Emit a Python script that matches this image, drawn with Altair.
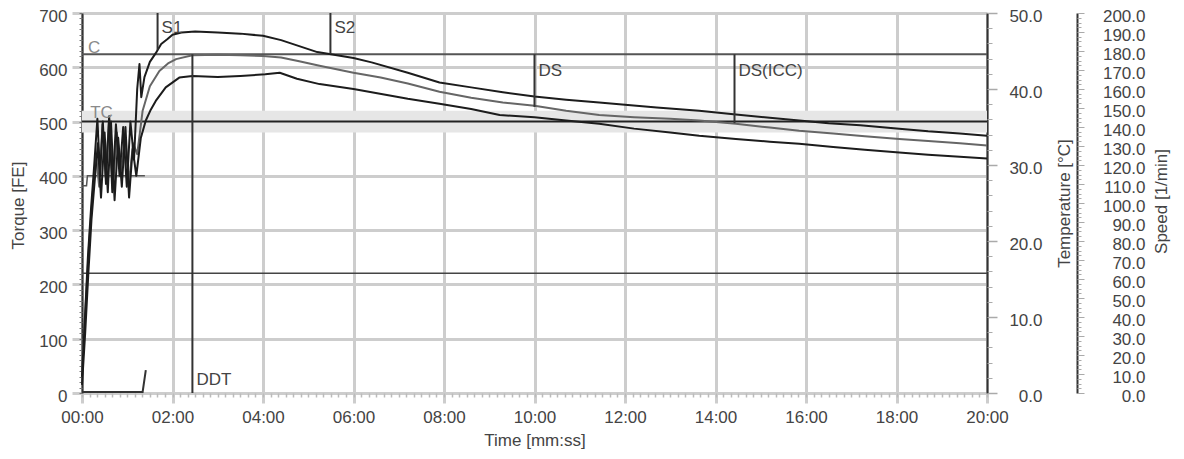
import altair as alt
import pandas as pd

FONT = "Liberation Sans"
GRID = "#cdcdcd"
LAB = "#444444"

# ---------------- data ----------------
upper_t = [0.0, 0.06, 0.13, 0.2, 0.27, 0.34, 0.4, 0.46, 0.53, 0.6, 0.67, 0.75, 0.83, 0.91, 0.99,
           1.07, 1.15, 1.22, 1.27, 1.31, 1.38, 1.5, 1.63, 1.75, 1.89, 2.0, 2.2, 2.5, 3.0, 3.5, 4.0,
           4.4, 4.8, 5.2, 5.5, 6.0, 6.4, 7.2, 7.9, 8.6, 9.3, 10.0, 10.7, 11.43, 12.0, 12.7, 13.64,
           14.45, 15.2, 15.85, 16.5, 17.2, 18.06, 18.7, 19.4, 20.0]
upper_v = [30, 130, 250, 340, 420, 505, 400, 500, 385, 510, 370, 495, 400, 490, 380,
           500, 430, 560, 606, 545, 582, 610, 626, 643, 652, 660, 664, 666, 664, 662, 658,
           650, 639, 628, 624, 617, 609, 590, 572, 563, 554, 546, 540, 535, 531, 526, 520,
           513, 507, 502, 497, 493, 487, 482, 478, 474]

mid_t = [0.0, 0.08, 0.16, 0.24, 0.31, 0.38, 0.45, 0.52, 0.6, 0.68, 0.77, 0.86, 0.95, 1.04, 1.13,
         1.22, 1.34, 1.5, 1.71, 1.9, 2.08, 2.44, 3.0, 3.5, 4.0, 4.4, 4.8, 5.25, 6.0, 6.6, 7.2,
         7.9, 8.6, 9.3, 10.0, 10.7, 11.43, 12.2, 13.0, 13.64, 14.45, 15.2, 15.85, 16.6, 17.3,
         18.06, 18.7, 19.4, 20.0]
mid_v = [45, 160, 280, 370, 440, 380, 495, 400, 505, 375, 480, 410, 470, 390, 460,
         440, 520, 565, 593, 607, 615, 622, 623, 622, 621, 618, 611, 603, 590, 581, 570,
         555, 544, 535, 529, 520, 512, 508, 505, 502, 496, 489, 483, 478, 473,
         468, 464, 460, 456]

low_t = [0.0, 0.07, 0.14, 0.21, 0.28, 0.35, 0.42, 0.5, 0.57, 0.64, 0.72, 0.8, 0.88, 0.96, 1.04,
         1.12, 1.2, 1.3, 1.41, 1.52, 1.63, 1.85, 2.15, 2.44, 3.0, 3.5, 4.05, 4.37, 4.75, 5.25,
         6.0, 7.2, 7.9, 8.6, 9.23, 10.0, 10.7, 11.43, 12.2, 13.0, 13.64, 14.45, 15.2, 15.85,
         16.6, 17.3, 18.06, 18.7, 19.4, 20.0]
low_v = [15, 110, 220, 320, 390, 460, 360, 480, 370, 500, 355, 470, 380, 490, 360,
         450, 400, 470, 502, 522, 538, 563, 581, 584, 582, 584, 587, 590, 579, 569,
         560, 542, 533, 523, 512, 508, 502, 496, 487, 480, 474, 468, 463, 459,
         453, 448, 443, 439, 435, 432]

# auxiliary traces at the start
water_t = [0.0, 1.34, 1.41]
water_v = [2, 2, 42]
aux_t = [0.0, 0.1, 0.12, 1.39]
aux_v = [382, 382, 400, 400]

# reference levels
c_level = [624]
tc_level = [500]
band_lo = [480]
band_hi = [520]
speed_level = [63]

# event markers
marker_t = [1.67, 5.49, 2.44, 10.0, 14.42]
marker_top = [700, 700, 624, 624, 624]
marker_bottom = [632, 625, 0, 527, 497]

dark_names = ["S1", "S2", "DDT", "DS", "DS(ICC)"]
dark_t = [1.67, 5.49, 2.44, 10.0, 14.42]
dark_v = [672, 672, 24, 593, 593]
light_names = ["C", "TC"]
light_t = [0.13, 0.18]
light_v = [636, 516]

# axis ticks
time_ticks = [0, 2, 4, 6, 8, 10, 12, 14, 16, 18, 20]
time_minor = [round(i / 6, 4) for i in range(121)]
torque_ticks = [0, 100, 200, 300, 400, 500, 600, 700]
torque_minor = list(range(0, 701, 10))
temp_ticks = [0, 10, 20, 30, 40, 50]
temp_minor = list(range(0, 51, 2))
speed_ticks = list(range(0, 201, 10))
speed_minor = [i * 2.5 for i in range(81)]

# ---------------- scales ----------------
TX = alt.Scale(domain=[0, 20], nice=False, zero=False)
TQ = alt.Scale(domain=[0, 700], nice=False, zero=False)
TT = alt.Scale(domain=[0, 50], nice=False, zero=False)
SP = alt.Scale(domain=[0, 200], nice=False, zero=False)


def xq(field="t"):
    return alt.X(f"{field}:Q", scale=TX, axis=None)


def yq(field="v"):
    return alt.Y(f"{field}:Q", scale=TQ, axis=None)


# ---------------- layers ----------------
band_df = pd.DataFrame({"t": [0], "t2": [20], "v": band_lo, "v2": band_hi})
band = alt.Chart(band_df).mark_rect(color="#e6e6e6").encode(
    x=alt.X("t:Q", scale=TX, axis=alt.Axis(
        values=time_ticks,
        labelExpr="(datum.value < 10 ? '0' : '') + datum.value + ':00'",
        grid=True, gridColor=GRID, gridWidth=3, domain=False,
        tickColor=GRID, tickWidth=3, tickSize=10, labelPadding=6,
        labelFontSize=17, labelColor=LAB, labelFlush=False, labelOverlap=False,
        title="Time [mm:ss]", titleFontSize=17, titleFontWeight="normal",
        titleColor=LAB, titlePadding=7)),
    x2="t2:Q",
    y=alt.Y("v:Q", scale=TQ, axis=alt.Axis(
        orient="left", values=torque_ticks, grid=True, gridColor=GRID, gridWidth=3,
        domainColor="#333333", domainWidth=2, tickColor=GRID, tickWidth=3, tickSize=10,
        labelPadding=5, labelFontSize=17, labelColor=LAB, labelFlush=False, labelOffset=3,
        title="Torque [FE]", titleFontSize=17, titleFontWeight="normal", titleColor=LAB,
        titleAngle=270, titleX=-64, titleY=192, titleAlign="center",
        titleBaseline="middle")),
    y2="v2:Q",
)

x_minor = alt.Chart(pd.DataFrame({"t": [0]})).mark_rule(opacity=0).encode(
    x=alt.X("t:Q", scale=TX, axis=alt.Axis(
        orient="bottom", values=time_minor, labels=False, domain=False, grid=False,
        tickColor="#bbbbbb", tickWidth=1.5, tickSize=4, title=None)))

y_minor = alt.Chart(pd.DataFrame({"v": [0]})).mark_rule(opacity=0).encode(
    y=alt.Y("v:Q", scale=TQ, axis=alt.Axis(
        orient="left", values=torque_minor, labels=False, domain=False, grid=False,
        tickColor="#777777", tickWidth=1, tickSize=3, title=None)))

c_line = alt.Chart(pd.DataFrame({"v": c_level})).mark_rule(
    color="#555555", strokeWidth=2).encode(y=yq())
tc_line = alt.Chart(pd.DataFrame({"v": tc_level})).mark_rule(
    color="#222222", strokeWidth=2).encode(y=yq())

speed = alt.Chart(pd.DataFrame({"s": speed_level})).mark_rule(
    color="#444444", strokeWidth=1.5).encode(
    y=alt.Y("s:Q", scale=SP, axis=alt.Axis(
        orient="right", offset=90, values=speed_ticks, format=".1f",
        domainColor="#333333", domainWidth=2, grid=False,
        tickColor="#aaaaaa", tickWidth=1, tickSize=7,
        labelAlign="right", labelPadding=61, labelFontSize=17, labelColor=LAB,
        labelFlush=False, labelOverlap=False, labelOffset=3,
        title="Speed [1/min]", titleFontSize=17, titleFontWeight="normal",
        titleColor=LAB, titleAngle=270, titleX=84, titleY=188,
        titleAlign="center", titleBaseline="middle")))

speed_minor_l = alt.Chart(pd.DataFrame({"s": [0]})).mark_rule(opacity=0).encode(
    y=alt.Y("s:Q", scale=SP, axis=alt.Axis(
        orient="right", offset=90, values=speed_minor, labels=False, domain=False,
        grid=False, tickColor="#aaaaaa", tickWidth=1, tickSize=4, title=None)))

temp = alt.Chart(pd.DataFrame({"c": [0]})).mark_rule(opacity=0).encode(
    y=alt.Y("c:Q", scale=TT, axis=alt.Axis(
        orient="right", values=temp_ticks, format=".1f",
        domainColor="#333333", domainWidth=2, grid=False,
        tickColor="#aaaaaa", tickWidth=1.5, tickSize=10,
        labelAlign="right", labelPadding=45, labelFontSize=17, labelColor=LAB,
        labelFlush=False, labelOffset=3,
        title="Temperature [°C]", titleFontSize=17, titleFontWeight="normal",
        titleColor=LAB, titleAngle=270, titleX=77, titleY=190,
        titleAlign="center", titleBaseline="middle")))

temp_minor_l = alt.Chart(pd.DataFrame({"c": [0]})).mark_rule(opacity=0).encode(
    y=alt.Y("c:Q", scale=TT, axis=alt.Axis(
        orient="right", values=temp_minor, labels=False, domain=False, grid=False,
        tickColor="#aaaaaa", tickWidth=1, tickSize=5, title=None)))

water = alt.Chart(pd.DataFrame({"t": water_t, "v": water_v})).mark_line(
    color="#333333", strokeWidth=2).encode(x=xq(), y=yq())
aux = alt.Chart(pd.DataFrame({"t": aux_t, "v": aux_v})).mark_line(
    color="#555555", strokeWidth=1.5).encode(x=xq(), y=yq())

curves_df = pd.concat([
    pd.DataFrame({"t": mid_t, "v": mid_v, "s": "Median"}),
    pd.DataFrame({"t": upper_t, "v": upper_v, "s": "Upper"}),
    pd.DataFrame({"t": low_t, "v": low_v, "s": "Lower"}),
])
curves = alt.Chart(curves_df).mark_line(strokeWidth=2, strokeJoin="round").encode(
    x=xq(), y=yq(),
    color=alt.Color("s:N", scale=alt.Scale(domain=["Median", "Upper", "Lower"],
                                           range=["#666666", "#1c1c1c", "#1c1c1c"]),
                    legend=None),
    order=alt.Order("t:Q"),
)

markers = alt.Chart(pd.DataFrame({"t": marker_t, "v": marker_top, "v2": marker_bottom})
                    ).mark_rule(color="#333333", strokeWidth=2).encode(
    x=xq(), y=yq(), y2="v2:Q")

dark_text = alt.Chart(pd.DataFrame({"n": dark_names, "t": dark_t, "v": dark_v})).mark_text(
    align="left", baseline="middle", dx=4, fontSize=17, color="#444444").encode(
    x=xq(), y=yq(), text="n:N")
light_text = alt.Chart(pd.DataFrame({"n": light_names, "t": light_t, "v": light_v})).mark_text(
    align="left", baseline="middle", dx=0, fontSize=17, color="#8a8a8a").encode(
    x=xq(), y=yq(), text="n:N")

chart = alt.layer(
    band, x_minor, y_minor, c_line, tc_line, speed, speed_minor_l, temp, temp_minor_l,
    water, aux, curves, markers, dark_text, light_text
).resolve_scale(y="independent").resolve_axis(x="independent").properties(
    width=905, height=380,
    autosize=alt.AutoSizeParams(type="none"),
    padding={"left": 74, "top": 5, "right": 186, "bottom": 59},
).configure(font=FONT).configure_view(stroke=None)

chart.save("out.html", embed_options={"renderer": "svg", "actions": False})
